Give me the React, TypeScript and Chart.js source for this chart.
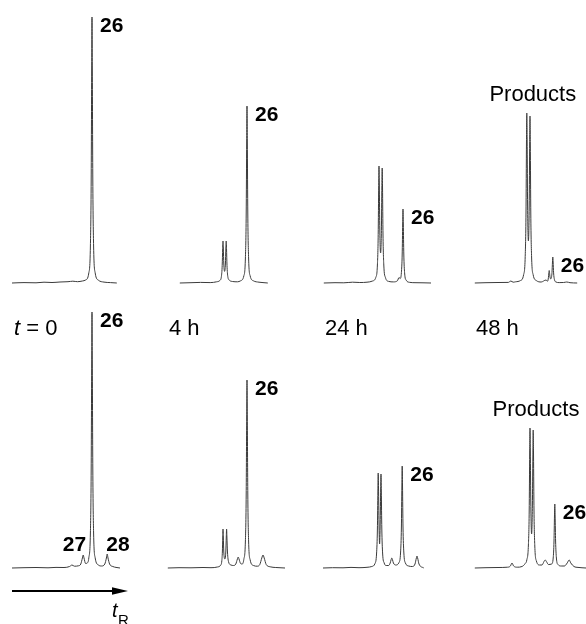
import { useEffect, useRef } from "react";
import { Chart, registerables } from "chart.js";

Chart.register(...registerables);

// ---------- data (retention time in min, detector signal in arbitrary units) ----------
const topT0Time = [0, 1.5, 3, 4, 5, 6, 7, 7.6, 8.2, 8.8, 9.2, 9.6, 9.8, 9.9, 9.96, 10, 10.04, 10.1, 10.2, 10.4, 10.8, 11.5, 12.3, 13.1];
const topT0Signal = [0, 0.4, 0.2, 0.8, 0.5, 1.0, 1.3, 1.8, 1.3, 2.0, 3.0, 10, 37, 104, 213, 266, 213, 104, 37, 10, 2.8, 0.9, 0.4, 0];

const top4hTime = [1.6, 3.0, 4.2, 5.4, 6.2, 6.6, 6.8, 6.9, 6.96, 7.0, 7.04, 7.1, 7.2, 7.3, 7.36, 7.4, 7.44, 7.5, 7.6, 7.8, 8.2, 8.8, 9.2, 9.6, 9.8, 9.9, 9.96, 10.0, 10.04, 10.1, 10.2, 10.4, 10.8, 11.5, 12.0, 12.6];
const top4hSignal = [0, 0.3, 0.6, 0.4, 1.2, 2.5, 6.5, 17.5, 34.5, 42, 35, 19, 11.6, 19, 35, 42, 34.5, 17.5, 6.5, 2.8, 1.5, 1.2, 2.2, 7, 25, 69, 142, 177, 142, 69, 25, 7, 2.2, 0.8, 0.4, 0];

const top24hTime = [0.1, 1.5, 2.6, 3.7, 4.6, 5.5, 6.2, 6.6, 6.8, 6.9, 6.96, 7.0, 7.04, 7.1, 7.2, 7.3, 7.36, 7.4, 7.44, 7.5, 7.6, 7.8, 8.2, 8.8, 9.3, 9.5, 9.65, 9.8, 9.9, 9.96, 10.0, 10.04, 10.1, 10.2, 10.4, 10.8, 11.5, 12.5, 13.5];
const top24hSignal = [0, 0.3, 0.2, 0.8, 0.5, 0.8, 2.0, 5.6, 18, 48.5, 97.5, 117, 99, 53, 30, 52.6, 97.5, 115, 96, 48, 18, 5.6, 1.6, 1.1, 2.2, 5.5, 4.5, 10.5, 29, 59, 74, 59, 29, 10.2, 2.8, 0.7, 0.3, 0.2, 0];

const top48hTime = [0.1, 1.5, 3.0, 4.3, 4.6, 4.9, 5.2, 5.8, 6.2, 6.4, 6.5, 6.56, 6.6, 6.64, 6.7, 6.8, 6.9, 6.96, 7.0, 7.04, 7.1, 7.2, 7.4, 7.8, 8.4, 9.0, 9.2, 9.3, 9.36, 9.4, 9.44, 9.5, 9.6, 9.7, 9.75, 9.81, 9.85, 9.89, 9.95, 10.05, 10.25, 10.65, 11.2, 11.6, 12.0, 12.9];
const top48hSignal = [0, 0.3, 0.5, 0.6, 2.0, 0.8, 1.2, 2.4, 8.2, 26.4, 70, 141, 170, 144, 77, 42, 76, 141.6, 167, 139, 69, 26, 8.1, 2.4, 1.0, 3.0, 1.8, 5.3, 10.3, 12.5, 10.6, 6, 4.1, 6.5, 10.6, 21, 26, 21, 10.1, 3.6, 1.0, 0.4, 0.5, 1.0, 0.3, 0];

const bot0Time = [0, 1.5, 3, 4.5, 5.5, 6.5, 7.2, 7.5, 7.8, 8.3, 8.6, 8.8, 8.9, 9.0, 9.2, 9.4, 9.6, 9.8, 9.9, 9.96, 10.0, 10.04, 10.1, 10.2, 10.4, 10.8, 11.2, 11.6, 11.8, 11.9, 12.0, 12.2, 12.6, 13.0, 13.5];
const bot0Signal = [0, 0.3, 0.5, 0.2, 0.6, 0.5, 1.5, 3, 1.8, 2.2, 4, 10, 13, 10, 4.5, 5, 10, 35, 100, 205, 256, 205, 100, 35, 10, 3, 2, 4, 10, 14, 10, 4, 1.5, 0.6, 0];

const bot4hTime = [0.1, 1.5, 3, 4.5, 5.5, 6.3, 6.7, 6.85, 6.92, 6.97, 7.0, 7.04, 7.1, 7.22, 7.35, 7.41, 7.45, 7.49, 7.56, 7.7, 8.0, 8.3, 8.6, 8.8, 8.9, 9.0, 9.2, 9.4, 9.6, 9.8, 9.9, 9.96, 10.0, 10.04, 10.1, 10.2, 10.4, 10.8, 11.3, 11.6, 11.85, 12.0, 12.15, 12.4, 12.9, 13.6, 14.75];
const bot4hSignal = [0, 0.3, 0.2, 0.5, 0.3, 1, 2.8, 7, 16, 31, 39, 31, 16, 9, 16, 31, 39, 31, 16, 6, 3, 2.5, 4, 9, 11, 9, 4.5, 4, 8.5, 27, 74, 151, 188, 151, 74, 27, 8, 2.5, 1.8, 3.5, 10, 13, 10, 3.5, 1.2, 0.5, 0];

const bot24hTime = [0, 1.2, 2.5, 3.5, 4.5, 5.5, 6.1, 6.5, 6.7, 6.8, 6.86, 6.9, 6.94, 7.0, 7.075, 7.15, 7.21, 7.25, 7.29, 7.35, 7.45, 7.65, 7.9, 8.2, 8.4, 8.52, 8.6, 8.68, 8.8, 9.1, 9.5, 9.7, 9.8, 9.86, 9.9, 9.94, 10.0, 10.1, 10.3, 10.7, 11.2, 11.5, 11.67, 11.75, 11.83, 12.0, 12.6];
const bot24hSignal = [0, 0.3, 0.2, 0.6, 0.3, 0.7, 1.5, 4.5, 15, 39, 77, 95, 80, 45, 24, 45, 79, 94, 77, 40, 15, 5, 2.5, 2.5, 5, 8.5, 10, 8.5, 5, 3, 5.5, 16, 41, 82, 102, 82, 41, 16, 5, 2, 1.5, 4, 10, 12, 10, 4, 0];

const bot48hTime = [0.1, 1.5, 3, 4.2, 4.55, 4.75, 4.95, 5.4, 6.0, 6.4, 6.6, 6.8, 6.9, 6.96, 7.0, 7.04, 7.1, 7.2, 7.3, 7.36, 7.4, 7.44, 7.5, 7.6, 7.8, 8.2, 8.5, 8.75, 8.9, 9.05, 9.3, 9.7, 9.9, 10.0, 10.06, 10.1, 10.14, 10.2, 10.3, 10.5, 10.9, 11.3, 11.65, 11.9, 12.1, 12.5, 13.0, 14.0];
const bot48hSignal = [0, 0.3, 0.5, 0.8, 2, 5, 2, 0.8, 1.5, 4.5, 8, 23, 57, 115, 140, 117, 65, 34, 63, 112, 138, 113, 57, 22, 7, 3, 3, 6.5, 8, 6.5, 3.5, 4, 10, 27, 52, 64, 52, 27, 10, 3.5, 2, 2, 5, 8, 5, 1.5, 0.6, 0];

// peak annotations: label text, peak retention time, peak height
const topT0Labels = [{ text: "26", t: 10, v: 266, kind: "peak" }];
const top4hLabels = [{ text: "26", t: 10, v: 177, kind: "peak" }];
const top24hLabels = [{ text: "26", t: 10, v: 74, kind: "peak" }];
const top48hLabels = [
  { text: "Products", t: 6.6, v: 170, kind: "group" },
  { text: "26", t: 9.85, v: 26, kind: "peak" },
];
const bot0Labels = [
  { text: "26", t: 10, v: 256, kind: "peak" },
  { text: "27", t: 8.9, v: 13, kind: "before" },
  { text: "28", t: 11.9, v: 14, kind: "after" },
];
const bot4hLabels = [{ text: "26", t: 10, v: 188, kind: "peak" }];
const bot24hLabels = [{ text: "26", t: 9.9, v: 102, kind: "peak" }];
const bot48hLabels = [
  { text: "Products", t: 7.0, v: 140, kind: "group" },
  { text: "26", t: 10.1, v: 64, kind: "peak" },
];

const timeLabels = ["t = 0", "4 h", "24 h", "48 h"];
const columnRange = [14, 15, 14, 14]; // minutes shown per column

// ---------- layout ----------
const W = 586;
const H = 624;
const PX_PER_MIN = 8;
const COL_LEFT = [12, 167, 323, 474];
const ROW_BASE = [283, 568];
const SIGNAL_MAX = 270;
const FONT = '"Liberation Sans", Arial, Helvetica, sans-serif';

type Label = { text: string; t: number; v: number; kind: string };
type Panel = { row: number; col: number; time: number[]; signal: number[]; labels: Label[] };

const panels: Panel[] = [
  { row: 0, col: 0, time: topT0Time, signal: topT0Signal, labels: topT0Labels },
  { row: 0, col: 1, time: top4hTime, signal: top4hSignal, labels: top4hLabels },
  { row: 0, col: 2, time: top24hTime, signal: top24hSignal, labels: top24hLabels },
  { row: 0, col: 3, time: top48hTime, signal: top48hSignal, labels: top48hLabels },
  { row: 1, col: 0, time: bot0Time, signal: bot0Signal, labels: bot0Labels },
  { row: 1, col: 1, time: bot4hTime, signal: bot4hSignal, labels: bot4hLabels },
  { row: 1, col: 2, time: bot24hTime, signal: bot24hSignal, labels: bot24hLabels },
  { row: 1, col: 3, time: bot48hTime, signal: bot48hSignal, labels: bot48hLabels },
];

function annotate(p: Panel) {
  return {
    id: "annotate" + p.row + p.col,
    afterDatasetsDraw(chart: any) {
      const ctx: CanvasRenderingContext2D = chart.ctx;
      const xs = chart.scales.x;
      const ys = chart.scales.y;
      ctx.save();
      ctx.fillStyle = "#000";
      ctx.textBaseline = "alphabetic";
      for (const l of p.labels) {
        const px = xs.getPixelForValue(l.t);
        const py = ys.getPixelForValue(l.v);
        if (l.kind === "peak") {
          ctx.font = `bold 21px ${FONT}`;
          ctx.textAlign = "left";
          ctx.fillText(l.text, px + 8, py + 15);
        } else if (l.kind === "before") {
          ctx.font = `bold 21px ${FONT}`;
          ctx.textAlign = "right";
          ctx.fillText(l.text, px + 3, py - 4);
        } else if (l.kind === "after") {
          ctx.font = `bold 21px ${FONT}`;
          ctx.textAlign = "left";
          ctx.fillText(l.text, px - 1, py - 3);
        } else if (l.kind === "group") {
          ctx.font = `22px ${FONT}`;
          ctx.textAlign = "center";
          ctx.fillText(l.text, px + 6, py - 12);
        }
      }
      const area = chart.chartArea;
      if (p.row === 1) {
        const txt = timeLabels[p.col];
        let x = area.left + 2;
        const y = 335;
        ctx.textAlign = "left";
        if (txt.startsWith("t ")) {
          ctx.font = `italic 22px ${FONT}`;
          ctx.fillText("t", x, y);
          x += ctx.measureText("t").width;
          ctx.font = `22px ${FONT}`;
          ctx.fillText(txt.slice(1), x, y);
        } else {
          ctx.font = `22px ${FONT}`;
          ctx.fillText(txt, x, y);
        }
      }
      if (p.row === 1 && p.col === 0) {
        // retention-time direction arrow
        const x0 = area.left;
        const x1 = area.left + 116;
        const y = 591;
        ctx.strokeStyle = "#000";
        ctx.lineWidth = 2;
        ctx.beginPath();
        ctx.moveTo(x0, y);
        ctx.lineTo(x1 - 10, y);
        ctx.stroke();
        ctx.beginPath();
        ctx.moveTo(x1, y);
        ctx.lineTo(x1 - 16, y - 3.8);
        ctx.lineTo(x1 - 16, y + 3.8);
        ctx.closePath();
        ctx.fill();
        ctx.textAlign = "left";
        ctx.font = `italic 20px ${FONT}`;
        ctx.fillText("t", 112, 617);
        const tw = ctx.measureText("t").width;
        ctx.font = `15px ${FONT}`;
        ctx.fillText("R", 112 + tw + 0.5, 625);
      }
      ctx.restore();
    },
  };
}

function makeConfig(p: Panel): any {
  const left = COL_LEFT[p.col];
  const width = columnRange[p.col] * PX_PER_MIN;
  const base = ROW_BASE[p.row];
  return {
    type: "line",
    data: {
      datasets: [
        {
          data: p.time.map((t, k) => ({ x: t, y: p.signal[k] })),
          borderColor: "#3a3a3a",
          borderWidth: 1,
          pointRadius: 0,
          fill: false,
          cubicInterpolationMode: "monotone",
          clip: false,
        },
      ],
    },
    options: {
      responsive: false,
      animation: false,
      devicePixelRatio: 1,
      events: [],
      layout: {
        padding: {
          left,
          right: Math.max(0, W - left - width),
          top: base - SIGNAL_MAX,
          bottom: H - base,
        },
      },
      plugins: {
        legend: { display: false },
        tooltip: { enabled: false },
        title: { display: false },
      },
      scales: {
        x: { type: "linear", display: false, min: 0, max: columnRange[p.col] },
        y: { type: "linear", display: false, min: 0, max: SIGNAL_MAX },
      },
    },
    plugins: [annotate(p)],
  };
}

export default function App() {
  const refs = useRef<(HTMLCanvasElement | null)[]>([]);
  useEffect(() => {
    document.body.style.margin = "0";
    const charts = panels.map((p, i) => new Chart(refs.current[i] as HTMLCanvasElement, makeConfig(p)));
    return () => charts.forEach((c) => c.destroy());
  }, []);
  return (
    <div style={{ position: "relative", width: W, height: H, background: "#fff", overflow: "hidden" }}>
      {panels.map((p, i) => (
        <canvas
          key={i}
          ref={(el) => {
            refs.current[i] = el;
          }}
          width={W}
          height={H}
          style={{ position: "absolute", left: 0, top: 0, width: W, height: H }}
        />
      ))}
    </div>
  );
}
